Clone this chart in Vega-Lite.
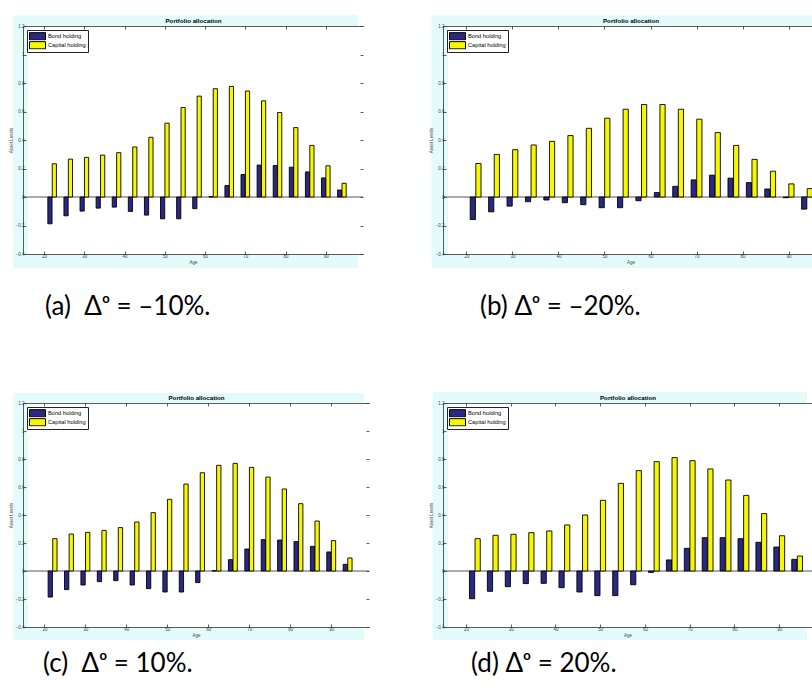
{
  "$schema": "https://vega.github.io/schema/vega-lite/v6.json",
  "background": "white",
  "padding": {"left": 8, "top": 15, "right": 0, "bottom": 0},
  "datasets": {
    "alloc": [
      {"p": "a", "age": 22, "bond": -0.188, "capital": 0.233},
      {"p": "a", "age": 26, "bond": -0.132, "capital": 0.266},
      {"p": "a", "age": 30, "bond": -0.099, "capital": 0.278},
      {"p": "a", "age": 34, "bond": -0.078, "capital": 0.294},
      {"p": "a", "age": 38, "bond": -0.071, "capital": 0.311},
      {"p": "a", "age": 42, "bond": -0.101, "capital": 0.351},
      {"p": "a", "age": 46, "bond": -0.127, "capital": 0.419},
      {"p": "a", "age": 50, "bond": -0.153, "capital": 0.518},
      {"p": "a", "age": 54, "bond": -0.153, "capital": 0.628},
      {"p": "a", "age": 58, "bond": -0.082, "capital": 0.708},
      {"p": "a", "age": 62, "bond": 0.002, "capital": 0.760},
      {"p": "a", "age": 66, "bond": 0.080, "capital": 0.776},
      {"p": "a", "age": 70, "bond": 0.158, "capital": 0.744},
      {"p": "a", "age": 74, "bond": 0.224, "capital": 0.675},
      {"p": "a", "age": 78, "bond": 0.221, "capital": 0.593},
      {"p": "a", "age": 82, "bond": 0.209, "capital": 0.487},
      {"p": "a", "age": 86, "bond": 0.176, "capital": 0.362},
      {"p": "a", "age": 90, "bond": 0.134, "capital": 0.219},
      {"p": "a", "age": 94, "bond": 0.049, "capital": 0.096},
      {"p": "b", "age": 22, "bond": -0.158, "capital": 0.235},
      {"p": "b", "age": 26, "bond": -0.104, "capital": 0.299},
      {"p": "b", "age": 30, "bond": -0.064, "capital": 0.332},
      {"p": "b", "age": 34, "bond": -0.033, "capital": 0.365},
      {"p": "b", "age": 38, "bond": -0.021, "capital": 0.391},
      {"p": "b", "age": 42, "bond": -0.040, "capital": 0.431},
      {"p": "b", "age": 46, "bond": -0.054, "capital": 0.482},
      {"p": "b", "age": 50, "bond": -0.075, "capital": 0.553},
      {"p": "b", "age": 54, "bond": -0.075, "capital": 0.616},
      {"p": "b", "age": 58, "bond": -0.026, "capital": 0.649},
      {"p": "b", "age": 62, "bond": 0.031, "capital": 0.649},
      {"p": "b", "age": 66, "bond": 0.075, "capital": 0.616},
      {"p": "b", "age": 70, "bond": 0.120, "capital": 0.546},
      {"p": "b", "age": 74, "bond": 0.153, "capital": 0.452},
      {"p": "b", "age": 78, "bond": 0.132, "capital": 0.362},
      {"p": "b", "age": 82, "bond": 0.101, "capital": 0.264},
      {"p": "b", "age": 86, "bond": 0.056, "capital": 0.181},
      {"p": "b", "age": 90, "bond": -0.005, "capital": 0.092},
      {"p": "b", "age": 94, "bond": -0.085, "capital": 0.059},
      {"p": "c", "age": 22, "bond": -0.186, "capital": 0.231},
      {"p": "c", "age": 26, "bond": -0.133, "capital": 0.264},
      {"p": "c", "age": 30, "bond": -0.100, "capital": 0.276},
      {"p": "c", "age": 34, "bond": -0.076, "capital": 0.290},
      {"p": "c", "age": 38, "bond": -0.069, "capital": 0.310},
      {"p": "c", "age": 42, "bond": -0.100, "capital": 0.350},
      {"p": "c", "age": 46, "bond": -0.126, "capital": 0.417},
      {"p": "c", "age": 50, "bond": -0.150, "capital": 0.512},
      {"p": "c", "age": 54, "bond": -0.150, "capital": 0.621},
      {"p": "c", "age": 58, "bond": -0.083, "capital": 0.702},
      {"p": "c", "age": 62, "bond": 0.002, "capital": 0.755},
      {"p": "c", "age": 66, "bond": 0.081, "capital": 0.769},
      {"p": "c", "age": 70, "bond": 0.157, "capital": 0.740},
      {"p": "c", "age": 74, "bond": 0.224, "capital": 0.671},
      {"p": "c", "age": 78, "bond": 0.221, "capital": 0.586},
      {"p": "c", "age": 82, "bond": 0.210, "capital": 0.481},
      {"p": "c", "age": 86, "bond": 0.176, "capital": 0.357},
      {"p": "c", "age": 90, "bond": 0.136, "capital": 0.217},
      {"p": "c", "age": 94, "bond": 0.048, "capital": 0.093},
      {"p": "d", "age": 22, "bond": -0.198, "capital": 0.231},
      {"p": "d", "age": 26, "bond": -0.145, "capital": 0.255},
      {"p": "d", "age": 30, "bond": -0.112, "capital": 0.262},
      {"p": "d", "age": 34, "bond": -0.090, "capital": 0.274},
      {"p": "d", "age": 38, "bond": -0.088, "capital": 0.286},
      {"p": "d", "age": 42, "bond": -0.119, "capital": 0.329},
      {"p": "d", "age": 46, "bond": -0.150, "capital": 0.400},
      {"p": "d", "age": 50, "bond": -0.176, "capital": 0.505},
      {"p": "d", "age": 54, "bond": -0.176, "capital": 0.626},
      {"p": "d", "age": 58, "bond": -0.098, "capital": 0.717},
      {"p": "d", "age": 62, "bond": -0.010, "capital": 0.781},
      {"p": "d", "age": 66, "bond": 0.079, "capital": 0.810},
      {"p": "d", "age": 70, "bond": 0.162, "capital": 0.788},
      {"p": "d", "age": 74, "bond": 0.238, "capital": 0.729},
      {"p": "d", "age": 78, "bond": 0.238, "capital": 0.650},
      {"p": "d", "age": 82, "bond": 0.231, "capital": 0.540},
      {"p": "d", "age": 86, "bond": 0.205, "capital": 0.410},
      {"p": "d", "age": 90, "bond": 0.171, "capital": 0.252},
      {"p": "d", "age": 94, "bond": 0.083, "capital": 0.107}
    ]
  },
  "columns": 2,
  "bounds": "flush",
  "align": "none",
  "spacing": {"row": 149, "column": 74},
  "resolve": {"scale": {"color": "independent"}, "legend": {"color": "independent"}},
  "concat": [
    {
      "width": 340,
      "height": 228,
      "title": {"text": "(a)\u00a0 Δᵒ = –10%.", "dx": 37, "offset": 26},
      "data": {"name": "alloc"},
      "transform": [{"filter": "datum.p === 'a'"}],
      "resolve": {"axis": {"x": "independent", "y": "independent"}},
      "layer": [
        {
          "data": {"values": [{}]},
          "mark": {"type": "rect", "fill": "#e4fbfb"},
          "encoding": {
            "x": {"datum": 12.37, "type": "quantitative", "scale": {"domain": [16, 98], "nice": false, "zero": false}, "axis": null},
            "x2": {"datum": 98},
            "y": {"datum": -0.498, "type": "quantitative", "scale": {"domain": [-0.4, 1.2], "nice": false, "zero": false}, "axis": null},
            "y2": {"datum": 1.277}
          }
        },
        {
          "data": {"values": [{}]},
          "mark": {"type": "rect", "fill": "white"},
          "encoding": {
            "x": {"datum": 16, "type": "quantitative", "scale": {"domain": [16, 98], "nice": false, "zero": false},
                  "axis": {"orient": "top", "zindex": 1, "tickSize": -3, "values": [20, 30, 40, 50, 60, 70, 80, 90], "labels": false, "title": "Portfolio allocation", "titleFontSize": 6.2, "titleFontWeight": "bold", "titleColor": "black", "titlePadding": 2}},
            "x2": {"datum": 98},
            "y": {"datum": -0.4, "type": "quantitative", "scale": {"domain": [-0.4, 1.2], "nice": false, "zero": false},
                  "axis": {"orient": "right", "zindex": 1, "tickSize": -3, "values": [-0.4, -0.2, 0, 0.2, 0.4, 0.6, 0.8, 1, 1.2], "labels": false, "domain": false, "title": null}},
            "y2": {"datum": 1.2}
          }
        },
        {
          "data": {"values": [{}]},
          "mark": {"type": "rule", "stroke": "#555555", "strokeWidth": 1},
          "encoding": {"y": {"datum": 0, "type": "quantitative", "scale": {"domain": [-0.4, 1.2], "nice": false, "zero": false}, "axis": null}}
        },
        {
          "mark": {"type": "bar", "orient": "vertical", "width": 4.2, "xOffset": -2.2, "stroke": "black", "strokeWidth": 0.9, "clip": true},
          "encoding": {
            "x": {"field": "age", "type": "quantitative", "scale": {"domain": [16, 98], "nice": false, "zero": false},
                  "axis": {"orient": "bottom", "zindex": 1, "tickSize": -3, "values": [20, 30, 40, 50, 60, 70, 80, 90], "title": "Age"}},
            "y": {"field": "bond", "type": "quantitative", "scale": {"domain": [-0.4, 1.2], "nice": false, "zero": false},
                  "axis": {"orient": "left", "zindex": 1, "tickSize": -3, "values": [-0.4, -0.2, 0, 0.2, 0.4, 0.6, 0.8, 1, 1.2], "title": "Asset Levels", "labelExpr": "format(datum.value, '~g')"}},
            "color": {"datum": "Bond holding", "type": "nominal", "scale": {"domain": ["Bond holding", "Capital holding"], "range": ["#2a2880", "#f7f700"]}}
          }
        },
        {
          "mark": {"type": "bar", "orient": "vertical", "width": 4.2, "xOffset": 2.2, "stroke": "black", "strokeWidth": 0.9, "clip": true},
          "encoding": {
            "x": {"field": "age", "type": "quantitative", "scale": {"domain": [16, 98], "nice": false, "zero": false}, "axis": null},
            "y": {"field": "capital", "type": "quantitative", "scale": {"domain": [-0.4, 1.2], "nice": false, "zero": false}, "axis": null},
            "color": {"datum": "Capital holding", "type": "nominal", "scale": {"domain": ["Bond holding", "Capital holding"], "range": ["#2a2880", "#f7f700"]}}
          }
        }
      ]
    },
    {
      "width": 375,
      "height": 228,
      "title": {"text": "(b) Δᵒ = –20%.", "dx": 52, "offset": 26},
      "data": {"name": "alloc"},
      "transform": [{"filter": "datum.p === 'b'"}],
      "resolve": {"axis": {"x": "independent", "y": "independent"}},
      "layer": [
        {
          "data": {"values": [{}]},
          "mark": {"type": "rect", "fill": "#e4fbfb"},
          "encoding": {
            "x": {"datum": 12.41, "type": "quantitative", "scale": {"domain": [16, 95.3], "nice": false, "zero": false}, "axis": null},
            "x2": {"datum": 95.3},
            "y": {"datum": -0.498, "type": "quantitative", "scale": {"domain": [-0.4, 1.2], "nice": false, "zero": false}, "axis": null},
            "y2": {"datum": 1.277}
          }
        },
        {
          "data": {"values": [{}]},
          "mark": {"type": "rect", "fill": "white"},
          "encoding": {
            "x": {"datum": 16, "type": "quantitative", "scale": {"domain": [16, 95.3], "nice": false, "zero": false},
                  "axis": {"orient": "top", "zindex": 1, "tickSize": -3, "values": [20, 30, 40, 50, 60, 70, 80, 90], "labels": false, "title": "Portfolio allocation", "titleFontSize": 6.2, "titleFontWeight": "bold", "titleColor": "black", "titlePadding": 2}},
            "x2": {"datum": 95.3},
            "y": {"datum": -0.4, "type": "quantitative", "scale": {"domain": [-0.4, 1.2], "nice": false, "zero": false}, "axis": null},
            "y2": {"datum": 1.2}
          }
        },
        {
          "data": {"values": [{}]},
          "mark": {"type": "rule", "stroke": "#555555", "strokeWidth": 1},
          "encoding": {"y": {"datum": 0, "type": "quantitative", "scale": {"domain": [-0.4, 1.2], "nice": false, "zero": false}, "axis": null}}
        },
        {
          "mark": {"type": "bar", "orient": "vertical", "width": 5.2, "xOffset": -2.8, "stroke": "black", "strokeWidth": 0.9, "clip": true},
          "encoding": {
            "x": {"field": "age", "type": "quantitative", "scale": {"domain": [16, 95.3], "nice": false, "zero": false},
                  "axis": {"orient": "bottom", "zindex": 1, "tickSize": -3, "values": [20, 30, 40, 50, 60, 70, 80, 90], "title": "Age"}},
            "y": {"field": "bond", "type": "quantitative", "scale": {"domain": [-0.4, 1.2], "nice": false, "zero": false},
                  "axis": {"orient": "left", "zindex": 1, "tickSize": -3, "values": [-0.4, -0.2, 0, 0.2, 0.4, 0.6, 0.8, 1, 1.2], "title": "Asset Levels", "labelExpr": "format(datum.value, '~g')"}},
            "color": {"datum": "Bond holding", "type": "nominal", "scale": {"domain": ["Bond holding", "Capital holding"], "range": ["#2a2880", "#f7f700"]}}
          }
        },
        {
          "mark": {"type": "bar", "orient": "vertical", "width": 5.2, "xOffset": 2.8, "stroke": "black", "strokeWidth": 0.9, "clip": true},
          "encoding": {
            "x": {"field": "age", "type": "quantitative", "scale": {"domain": [16, 95.3], "nice": false, "zero": false}, "axis": null},
            "y": {"field": "capital", "type": "quantitative", "scale": {"domain": [-0.4, 1.2], "nice": false, "zero": false}, "axis": null},
            "color": {"datum": "Capital holding", "type": "nominal", "scale": {"domain": ["Bond holding", "Capital holding"], "range": ["#2a2880", "#f7f700"]}}
          }
        }
      ]
    },
    {
      "width": 346,
      "height": 224,
      "title": {"text": "(c)\u00a0 Δᵒ = 10%.", "dx": 35, "offset": 11},
      "data": {"name": "alloc"},
      "transform": [{"filter": "datum.p === 'c'"}],
      "resolve": {"axis": {"x": "independent", "y": "independent"}},
      "layer": [
        {
          "data": {"values": [{}]},
          "mark": {"type": "rect", "fill": "#e4fbfb"},
          "encoding": {
            "x": {"datum": 12.45, "type": "quantitative", "scale": {"domain": [16, 98], "nice": false, "zero": false}, "axis": null},
            "x2": {"datum": 98},
            "y": {"datum": -0.493, "type": "quantitative", "scale": {"domain": [-0.4, 1.2], "nice": false, "zero": false}, "axis": null},
            "y2": {"datum": 1.271}
          }
        },
        {
          "data": {"values": [{}]},
          "mark": {"type": "rect", "fill": "white"},
          "encoding": {
            "x": {"datum": 16, "type": "quantitative", "scale": {"domain": [16, 98], "nice": false, "zero": false},
                  "axis": {"orient": "top", "zindex": 1, "tickSize": -3, "values": [20, 30, 40, 50, 60, 70, 80, 90], "labels": false, "title": "Portfolio allocation", "titleFontSize": 6.2, "titleFontWeight": "bold", "titleColor": "black", "titlePadding": 2}},
            "x2": {"datum": 98},
            "y": {"datum": -0.4, "type": "quantitative", "scale": {"domain": [-0.4, 1.2], "nice": false, "zero": false},
                  "axis": {"orient": "right", "zindex": 1, "tickSize": -3, "values": [-0.4, -0.2, 0, 0.2, 0.4, 0.6, 0.8, 1, 1.2], "labels": false, "domain": false, "title": null}},
            "y2": {"datum": 1.2}
          }
        },
        {
          "data": {"values": [{}]},
          "mark": {"type": "rule", "stroke": "#555555", "strokeWidth": 1},
          "encoding": {"y": {"datum": 0, "type": "quantitative", "scale": {"domain": [-0.4, 1.2], "nice": false, "zero": false}, "axis": null}}
        },
        {
          "mark": {"type": "bar", "orient": "vertical", "width": 4.3, "xOffset": -2.3, "stroke": "black", "strokeWidth": 0.9, "clip": true},
          "encoding": {
            "x": {"field": "age", "type": "quantitative", "scale": {"domain": [16, 98], "nice": false, "zero": false},
                  "axis": {"orient": "bottom", "zindex": 1, "tickSize": -3, "values": [20, 30, 40, 50, 60, 70, 80, 90], "title": "Age"}},
            "y": {"field": "bond", "type": "quantitative", "scale": {"domain": [-0.4, 1.2], "nice": false, "zero": false},
                  "axis": {"orient": "left", "zindex": 1, "tickSize": -3, "values": [-0.4, -0.2, 0, 0.2, 0.4, 0.6, 0.8, 1, 1.2], "title": "Asset Levels", "labelExpr": "format(datum.value, '~g')"}},
            "color": {"datum": "Bond holding", "type": "nominal", "scale": {"domain": ["Bond holding", "Capital holding"], "range": ["#2a2880", "#f7f700"]}}
          }
        },
        {
          "mark": {"type": "bar", "orient": "vertical", "width": 4.3, "xOffset": 2.3, "stroke": "black", "strokeWidth": 0.9, "clip": true},
          "encoding": {
            "x": {"field": "age", "type": "quantitative", "scale": {"domain": [16, 98], "nice": false, "zero": false}, "axis": null},
            "y": {"field": "capital", "type": "quantitative", "scale": {"domain": [-0.4, 1.2], "nice": false, "zero": false}, "axis": null},
            "color": {"datum": "Capital holding", "type": "nominal", "scale": {"domain": ["Bond holding", "Capital holding"], "range": ["#2a2880", "#f7f700"]}}
          }
        }
      ]
    },
    {
      "width": 369,
      "height": 224,
      "title": {"text": "(d) Δᵒ = 20%.", "dx": 43, "offset": 11},
      "data": {"name": "alloc"},
      "transform": [{"filter": "datum.p === 'd'"}],
      "resolve": {"axis": {"x": "independent", "y": "independent"}},
      "layer": [
        {
          "data": {"values": [{}]},
          "mark": {"type": "rect", "fill": "#e4fbfb"},
          "encoding": {
            "x": {"datum": 12.52, "type": "quantitative", "scale": {"domain": [16, 96.2], "nice": false, "zero": false}, "axis": null},
            "x2": {"datum": 96.2},
            "y": {"datum": -0.493, "type": "quantitative", "scale": {"domain": [-0.4, 1.2], "nice": false, "zero": false}, "axis": null},
            "y2": {"datum": 1.279}
          }
        },
        {
          "data": {"values": [{}]},
          "mark": {"type": "rect", "fill": "white"},
          "encoding": {
            "x": {"datum": 16, "type": "quantitative", "scale": {"domain": [16, 96.2], "nice": false, "zero": false},
                  "axis": {"orient": "top", "zindex": 1, "tickSize": -3, "values": [20, 30, 40, 50, 60, 70, 80, 90], "labels": false, "title": "Portfolio allocation", "titleFontSize": 6.2, "titleFontWeight": "bold", "titleColor": "black", "titlePadding": 2}},
            "x2": {"datum": 96.2},
            "y": {"datum": -0.4, "type": "quantitative", "scale": {"domain": [-0.4, 1.2], "nice": false, "zero": false}, "axis": null},
            "y2": {"datum": 1.2}
          }
        },
        {
          "data": {"values": [{}]},
          "mark": {"type": "rule", "stroke": "#555555", "strokeWidth": 1},
          "encoding": {"y": {"datum": 0, "type": "quantitative", "scale": {"domain": [-0.4, 1.2], "nice": false, "zero": false}, "axis": null}}
        },
        {
          "mark": {"type": "bar", "orient": "vertical", "width": 5.2, "xOffset": -2.8, "stroke": "black", "strokeWidth": 0.9, "clip": true},
          "encoding": {
            "x": {"field": "age", "type": "quantitative", "scale": {"domain": [16, 96.2], "nice": false, "zero": false},
                  "axis": {"orient": "bottom", "zindex": 1, "tickSize": -3, "values": [20, 30, 40, 50, 60, 70, 80, 90], "title": "Age"}},
            "y": {"field": "bond", "type": "quantitative", "scale": {"domain": [-0.4, 1.2], "nice": false, "zero": false},
                  "axis": {"orient": "left", "zindex": 1, "tickSize": -3, "values": [-0.4, -0.2, 0, 0.2, 0.4, 0.6, 0.8, 1, 1.2], "title": "Asset Levels", "labelExpr": "format(datum.value, '~g')"}},
            "color": {"datum": "Bond holding", "type": "nominal", "scale": {"domain": ["Bond holding", "Capital holding"], "range": ["#2a2880", "#f7f700"]}}
          }
        },
        {
          "mark": {"type": "bar", "orient": "vertical", "width": 5.2, "xOffset": 2.8, "stroke": "black", "strokeWidth": 0.9, "clip": true},
          "encoding": {
            "x": {"field": "age", "type": "quantitative", "scale": {"domain": [16, 96.2], "nice": false, "zero": false}, "axis": null},
            "y": {"field": "capital", "type": "quantitative", "scale": {"domain": [-0.4, 1.2], "nice": false, "zero": false}, "axis": null},
            "color": {"datum": "Capital holding", "type": "nominal", "scale": {"domain": ["Bond holding", "Capital holding"], "range": ["#2a2880", "#f7f700"]}}
          }
        }
      ]
    }
  ],
  "config": {
    "view": {"stroke": null},
    "font": "Liberation Sans",
    "title": {"orient": "bottom", "anchor": "start", "font": "Lato", "fontSize": 26, "fontWeight": "normal", "color": "black", "baseline": "top"},
    "axis": {
      "grid": false,
      "labelFont": "Liberation Sans",
      "labelFontSize": 4.5,
      "labelColor": "#444444",
      "labelPadding": 2,
      "labelFlush": false,
      "labelOverlap": false,
      "labelBound": false,
      "titleFont": "Liberation Sans",
      "titleFontSize": 4.5,
      "titleFontWeight": "normal",
      "titleColor": "#444444",
      "titlePadding": 2,
      "domainColor": "#333333",
      "domainWidth": 0.8,
      "tickColor": "#333333",
      "tickWidth": 0.8
    },
    "legend": {
      "orient": "top-left",
      "offset": 4,
      "title": null,
      "zindex": 1,
      "fillColor": "white",
      "strokeColor": "#222222",
      "padding": 2,
      "rowPadding": 0,
      "clipHeight": 8.5,
      "labelFont": "Liberation Sans",
      "labelFontSize": 5.7,
      "labelColor": "black",
      "labelOffset": 6,
      "symbolOffset": 4,
      "symbolType": "M-2,-0.9H2V0.9H-2Z",
      "symbolSize": 64,
      "symbolStrokeColor": "black",
      "symbolStrokeWidth": 1,
      "symbolOpacity": 1
    }
  }
}
